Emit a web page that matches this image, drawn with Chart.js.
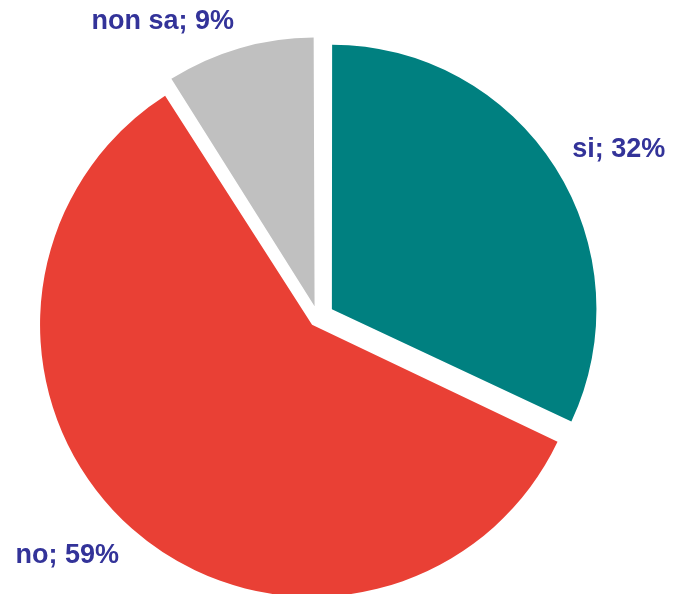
<!DOCTYPE html>
<html>
<head>
<meta charset="utf-8">
<title>Risposte</title>
<script src="https://cdn.jsdelivr.net/npm/chart.js@4.4.1/dist/chart.umd.min.js"></script>
<style>
  html, body { margin: 0; padding: 0; background: #ffffff; }
  #wrap { width: 676px; height: 594px; }
</style>
</head>
<body>
<div id="wrap"><canvas id="pie" width="676" height="594"></canvas></div>
<script>
// answers and their share, in percent
const categories = ['si', 'no', 'non sa'];
const shares = [32, 59, 9];
const sliceColors = ['#008080', '#E94035', '#C0C0C0'];

const PULL = 18;         // px every slice is pulled out from the centre
const PIE_RADIUS = 263;
const LABEL_FONT = 'bold 27px "Liberation Sans", Arial, sans-serif';
const LABEL_COLOR = '#333399';

// ArcElement moves a slice by offset/4 * (2 - sin(circumference)),
// so solve for the offset that gives the same pull on every slice
function sliceOffset(ctx) {
  const data = ctx.dataset.data;
  const total = data.reduce((a, b) => a + b, 0);
  const circ = Math.PI * 2 * data[ctx.dataIndex] / total;
  const fix = 1 - Math.sin(Math.min(Math.PI, circ));
  return PULL * 4 / (1 + fix);
}

// Places "name; value%" outside each slice, with the corner of the text box
// that faces the pie sitting just past the slice edge
const outsideLabels = {
  id: 'outsideLabels',
  afterDatasetsDraw(chart) {
    const ctx = chart.ctx;
    const meta = chart.getDatasetMeta(0);
    const values = chart.data.datasets[0].data;
    ctx.save();
    ctx.font = LABEL_FONT;
    ctx.fillStyle = LABEL_COLOR;
    ctx.textAlign = 'center';
    ctx.textBaseline = 'alphabetic';
    meta.data.forEach((arc, i) => {
      const p = arc.getProps(['x', 'y', 'startAngle', 'endAngle', 'outerRadius'], true);
      const mid = (p.startAngle + p.endAngle) / 2;
      const dist = p.outerRadius + PULL + 20;
      const ax = p.x + Math.cos(mid) * dist;
      const ay = p.y + Math.sin(mid) * dist;
      const text = chart.data.labels[i] + '; ' + values[i] + '%';
      const w = ctx.measureText(text).width;
      const capH = 19.5;
      const cx = ax + Math.sign(Math.cos(mid)) * w / 2;
      const cy = ay + Math.sign(Math.sin(mid)) * capH / 2;
      ctx.fillText(text, cx, cy + capH / 2);
    });
    ctx.restore();
  }
};

new Chart(document.getElementById('pie'), {
  type: 'pie',
  data: {
    labels: categories,
    datasets: [{
      data: shares,
      backgroundColor: sliceColors,
      borderWidth: 0,
      offset: sliceOffset,
      hoverOffset: sliceOffset
    }]
  },
  options: {
    responsive: false,
    animation: false,
    radius: PIE_RADIUS,
    layout: { padding: { left: 46, top: 46, right: 86, bottom: 4 } },
    plugins: {
      legend: { display: false },
      tooltip: { enabled: false }
    }
  },
  plugins: [outsideLabels]
});
</script>
</body>
</html>
